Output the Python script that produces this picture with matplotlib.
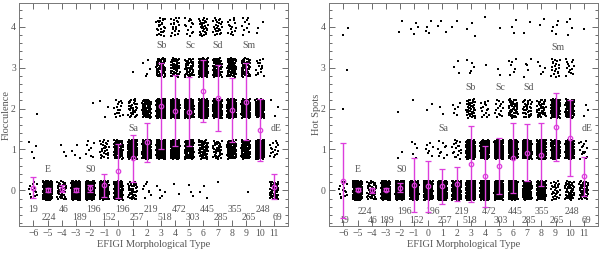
import numpy as np
import matplotlib
matplotlib.use("Agg")
import matplotlib.pyplot as plt
from matplotlib.ticker import MultipleLocator

# EFIGI types and number of galaxies per type
types = list(range(-6, 12))
n_gal = [19, 224, 46, 189, 196, 152, 196, 257, 219, 518, 472, 303, 445, 285, 355, 265, 248, 69]

# Flocculence: galaxies per attribute level (0..4) for each type
floc_0 = [14, 224, 43, 185, 187, 122, 100, 40, 8, 5, 2, 3, 3, 1, 0, 1, 0, 50]
floc_1 = [4, 0, 3, 4, 8, 27, 80, 182, 141, 178, 170, 100, 59, 39, 90, 79, 150, 16]
floc_2 = [1, 0, 0, 0, 1, 3, 16, 34, 65, 250, 220, 140, 233, 151, 180, 120, 80, 3]
floc_3 = [0, 0, 0, 0, 0, 0, 0, 1, 5, 60, 60, 45, 120, 70, 70, 55, 15, 0]
floc_4 = [0, 0, 0, 0, 0, 0, 0, 0, 0, 25, 20, 15, 30, 24, 15, 10, 3, 0]
floc_mean = [0.07, 0.02, 0.04, 0.02, 0.05, 0.13, 0.48, 0.78, 1.17, 2.05, 1.95, 1.92,
             2.43, 2.26, 1.96, 2.17, 1.47, 0.09]
floc_err = [0.26, 0.05, 0.09, 0.05, 0.09, 0.28, 0.66, 0.58, 0.48, 1.05, 0.86, 0.84,
            0.76, 0.8, 0.78, 0.93, 0.76, 0.3]

# Hot spots
hot_0 = [15, 224, 46, 189, 191, 142, 183, 242, 190, 300, 330, 160, 170, 95, 125, 30, 50, 50]
hot_1 = [0, 0, 0, 0, 2, 5, 7, 10, 18, 165, 125, 125, 220, 150, 185, 105, 110, 15]
hot_2 = [1, 0, 0, 0, 1, 1, 2, 2, 6, 45, 15, 15, 45, 33, 38, 105, 70, 3]
hot_3 = [1, 0, 0, 0, 0, 0, 0, 0, 3, 5, 1, 2, 7, 5, 5, 20, 14, 0]
hot_4 = [2, 0, 0, 0, 2, 4, 4, 3, 2, 3, 1, 1, 3, 2, 2, 5, 4, 1]
hot_mean = [0.24, 0.02, 0.0, 0.02, 0.07, 0.12, 0.1, 0.1, 0.16, 0.64, 0.34, 0.59,
            0.79, 0.92, 0.87, 1.55, 1.27, 0.34]
hot_err = [0.92, 0.04, 0.06, 0.04, 0.12, 0.66, 0.62, 0.43, 0.41, 0.93, 0.74, 0.68,
           0.86, 0.7, 0.77, 0.83, 0.93, 0.47]

# count labels: (x, row)
floc_counts_pos = [(-6.0, 0), (-4.9, 1), (-3.9, 0), (-2.75, 1), (-1.75, 0), (-0.7, 1),
                   (0.25, 0), (1.28, 1), (2.28, 0), (3.28, 1), (4.26, 0), (5.28, 1),
                   (6.24, 0), (7.24, 1), (8.25, 0), (9.24, 1), (10.24, 0), (11.2, 1)]
hot_counts_pos = [(-5.95, 1), (-4.5, 0), (-3.95, 1), (-2.95, 1), (-1.7, 0), (-0.85, 1),
                  (0.28, 0), (1.15, 1), (2.35, 0), (2.95, 1), (4.28, 0), (5.1, 1),
                  (6.16, 0), (7.1, 1), (8.05, 0), (9.1, 1), (10.16, 0), (11.2, 1)]

floc_classes = [("E", -5.0, 0.52), ("S0", -2.0, 0.52), ("Sa", 1.06, 1.51), ("Sb", 3.05, 3.53),
                ("Sc", 5.05, 3.53), ("Sd", 7.0, 3.53), ("Sm", 9.2, 3.53), ("dE", 11.15, 1.52)]
hot_classes = [("E", -5.0, 0.5), ("S0", -1.9, 0.5), ("Sa", 1.05, 1.5), ("Sb", 3.0, 2.52),
               ("Sc", 5.1, 2.52), ("Sd", 7.1, 2.52), ("Sm", 9.2, 3.5), ("dE", 11.2, 1.5)]

MAGENTA = "#dc3edc"
GREY = "#555555"
plt.rcParams["font.family"] = ["Liberation Serif", "DejaVu Serif"]


def halton(k, base):
    out = np.zeros(len(k))
    f = 1.0
    k = k.copy()
    while np.any(k > 0):
        f /= base
        out += f * (k % base)
        k //= base
    return out


def jitter(n, k0):
    # low-discrepancy spread of the points over the cell
    k = np.arange(1, n + 1) + k0
    return halton(k, 2) - 0.5, halton(k, 3) - 0.5


def draw_panel(ax, levels, mean, err, ylabel, count_pos, row_y, classes):
    k0 = 11
    for lvl, counts in enumerate(levels):
        for t, n in zip(types, counts):
            if n == 0:
                continue
            jx, jy = jitter(n, k0)
            k0 += 3 * n + 17
            ax.scatter(t + 0.64 * jx, lvl + 0.46 * jy, s=0.55, marker="s",
                       color="k", linewidths=0)

    ax.errorbar(types, mean, yerr=err, fmt="o", ms=3.2, mfc="none", mec=MAGENTA,
                color=MAGENTA, ecolor=MAGENTA, elinewidth=1.0, capsize=2.2,
                capthick=0.8, mew=0.9, zorder=5)

    for n, (x, row) in zip(n_gal, count_pos):
        ax.text(x, row_y[row], str(n), ha="center", va="center", fontsize=7, color=GREY)
    for name, x, y in classes:
        ax.text(x, y, name, ha="center", va="center", fontsize=7, color=GREY)

    ax.set_xlim(-7, 12)
    ax.set_ylim(-0.87, 4.57)
    ax.set_xticks(types)
    ax.set_yticks([0, 1, 2, 3, 4])
    ax.yaxis.set_minor_locator(MultipleLocator(0.2))
    ax.tick_params(which="both", direction="in", top=True, right=True,
                   colors=GREY, labelsize=7, width=0.6)
    ax.tick_params(which="major", length=4, pad=2.5)
    ax.tick_params(which="minor", length=2)
    for s in ax.spines.values():
        s.set_color("#777777")
        s.set_linewidth(0.7)
    ax.set_xlabel("EFIGI Morphological Type", fontsize=7.5, color=GREY, labelpad=1)
    ax.set_ylabel(ylabel, fontsize=7.5, color=GREY, labelpad=0)


fig = plt.figure(figsize=(6.0, 2.54), dpi=100)
ax1 = fig.add_axes([0.0322, 0.1102, 0.4483, 0.8768])
ax2 = fig.add_axes([0.5488, 0.1102, 0.4478, 0.8768])

draw_panel(ax1, [floc_0, floc_1, floc_2, floc_3, floc_4], floc_mean, floc_err,
           "Flocculence", floc_counts_pos, (-0.46, -0.66), floc_classes)
draw_panel(ax2, [hot_0, hot_1, hot_2, hot_3, hot_4], hot_mean, hot_err,
           "Hot Spots", hot_counts_pos, (-0.52, -0.74), hot_classes)

fig.savefig("out.png", dpi=100)
